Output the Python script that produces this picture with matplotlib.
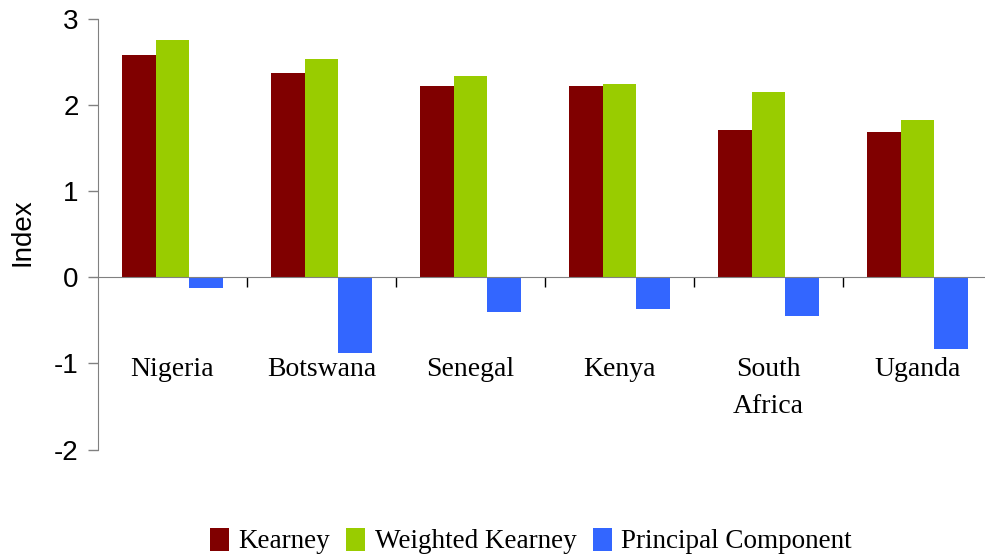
import matplotlib
matplotlib.use("Agg")
import matplotlib.pyplot as plt
import numpy as np

categories = ["Nigeria", "Botswana", "Senegal", "Kenya", "South\nAfrica", "Uganda"]
kearney = [2.58, 2.37, 2.22, 2.22, 1.71, 1.69]
weighted_kearney = [2.76, 2.53, 2.34, 2.24, 2.15, 1.83]
principal_component = [-0.13, -0.88, -0.40, -0.37, -0.45, -0.83]
series_names = ["Kearney", "Weighted Kearney", "Principal Component"]
colors = ["#800000", "#99CC00", "#3366FF"]
yticks = [-2, -1, 0, 1, 2, 3]

W, H = 985, 556
fig = plt.figure(figsize=(W / 100, H / 100), dpi=100)
left, right, top, bottom = 98, 985, 19, 449.5
ax = fig.add_axes([left / W, 1 - bottom / H, (right - left) / W, (bottom - top) / H])

x = np.arange(len(categories))
bw = 0.224
for i, (vals, name, c) in enumerate(zip([kearney, weighted_kearney, principal_component], series_names, colors)):
    ax.bar(x + (i - 1) * bw, vals, width=bw, color=c, label=name, linewidth=0)

ax.set_ylim(-2, 3)
ax.set_xlim(-0.5, -0.5 + (right - left) / 149.0)
ax.set_yticks(yticks)
ax.set_yticklabels([str(t) for t in yticks], fontfamily="Liberation Sans", fontsize=20)
ax.tick_params(axis="y", direction="out", length=7, width=1, color="#808080", pad=7)

for s in ["top", "right"]:
    ax.spines[s].set_visible(False)
ax.spines["left"].set_color("#808080")
ax.spines["bottom"].set_position(("data", 0))
ax.spines["bottom"].set_color("#808080")
ax.set_xticks(x[:-1] + 0.5)
ax.set_xticklabels([])
ax.tick_params(axis="x", direction="out", length=7, width=1, color="black")

for xi, cat in zip(x, categories):
    ax.text(xi, -0.93, cat, ha="center", va="top", fontfamily="Liberation Serif",
            fontsize=20, linespacing=1.6)

fig.text(23 / W, 1 - 232 / H, "Index", rotation=90, ha="center", va="center",
         fontfamily="Liberation Sans", fontsize=20)

leg = fig.legend(loc="center", bbox_to_anchor=(531 / W, 1 - 541 / H), ncol=3, frameon=False,
                 prop={"family": "Liberation Serif", "size": 19.5}, handlelength=0.7,
                 handleheight=0.95, handletextpad=0.35, columnspacing=0.6)

fig.savefig("out.png", dpi=100)
